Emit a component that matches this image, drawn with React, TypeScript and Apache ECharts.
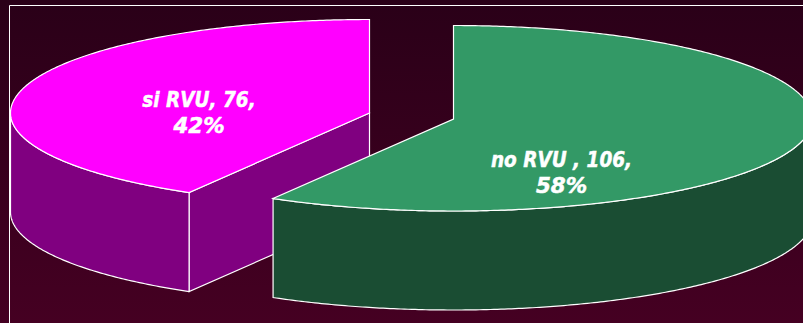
import React, { useEffect, useRef } from "react";
import * as echarts from "echarts";

// Slices in clockwise order, starting from twelve o'clock.
const sliceNames = ["no RVU ", "si RVU"];
const sliceValues = [106, 76];
const topColors = ["#339966", "#ff00ff"];
const wallColors = ["#1a4d33", "#800080"];

const WIDTH = 803;
const HEIGHT = 323;
const RADIUS_X = 359;
const RADIUS_Y_BACK = 93.5;
const RADIUS_Y_FRONT = 92;
const DEPTH = 99;
// Half a degree of rotation on the shared cut between the slices.
const CUT_NUDGE = (0.5 * Math.PI) / 180;
// Each slice is pulled away from the other, so it has its own apex.
const apexes = [
  [453.5, 119],
  [369.5, 113],
];
const labelCentres = [
  [561.5, 173],
  [199, 113],
];
const LABEL_LINE_GAP = 25;

const total = sliceValues.reduce((a, b) => a + b, 0);

const rimPoint = (cx: number, cy: number, angle: number) => {
  const c = Math.cos(angle);
  return [cx + RADIUS_X * Math.sin(angle), cy - (c > 0 ? RADIUS_Y_BACK : RADIUS_Y_FRONT) * c];
};

const arcPoints = (cx: number, cy: number, from: number, to: number) => {
  const steps = Math.max(2, Math.ceil(Math.abs(to - from) / 0.01));
  const pts: number[][] = [];
  for (let i = 0; i <= steps; i++) pts.push(rimPoint(cx, cy, from + ((to - from) * i) / steps));
  return pts;
};

const labelLine = (text: string, x: number, y: number, scaleX: number, z2: number) => ({
  type: "text",
  z2,
  x,
  y,
  scaleX,
  style: {
    text,
    fill: "#ffffff",
    stroke: "#ffffff",
    lineWidth: 0.5,
    font: "italic bold 21px 'DejaVu Sans'",
    align: "center",
    verticalAlign: "middle",
  },
});

// Draws one extruded slice: cut wall, outer wall, then the top face and its label.
const renderSlice = (params: any, api: any) => {
  const index = params.dataIndex;
  const value = api.value(0);
  const cut = (sliceValues[0] / total) * Math.PI * 2 + CUT_NUDGE;
  const start = index === 0 ? 0 : cut;
  const end = index === 0 ? cut : Math.PI * 2;
  const [cx, cy] = apexes[index];
  const edge = { stroke: "#ffffff", lineWidth: 1.2 };
  // The first slice sits in front of the second one.
  const z2 = (sliceValues.length - index) * 10;
  const children: any[] = [];

  // Walls can only be seen on the front half of the rim.
  const upper = arcPoints(cx, cy, Math.max(start, Math.PI / 2), Math.min(end, (Math.PI * 3) / 2));
  const lower = upper.map(([x, y]) => [x, y + DEPTH]).reverse();

  // Flat face left by the cut, visible when the slice begins on the front half.
  if (start > Math.PI / 2) {
    const rim = rimPoint(cx, cy, start);
    children.push({
      type: "polygon",
      z2,
      shape: {
        points: [
          [cx, cy],
          rim,
          [rim[0], rim[1] + DEPTH],
          [cx, cy + DEPTH],
        ],
      },
      style: { fill: wallColors[index], ...edge },
    });
  }

  children.push({
    type: "polygon",
    z2,
    shape: { points: [...upper, ...lower] },
    style: { fill: wallColors[index], ...edge },
  });

  children.push({
    type: "polygon",
    z2,
    shape: { points: [[cx, cy], ...arcPoints(cx, cy, start, end)] },
    style: { fill: topColors[index], ...edge },
  });

  const pct = Math.round((value / total) * 100);
  const [lx, ly] = labelCentres[index];
  children.push(
    labelLine(`${sliceNames[index]}, ${value},`, lx, ly - LABEL_LINE_GAP / 2, 0.88, z2 + 1),
    labelLine(`${pct}%`, lx, ly + LABEL_LINE_GAP / 2, 1.02, z2 + 1)
  );

  return { type: "group", children };
};

export default function App() {
  const ref = useRef<HTMLDivElement>(null);

  useEffect(() => {
    document.body.style.margin = "0";
    const chart = echarts.init(ref.current!, undefined, { renderer: "svg" });
    chart.setOption({
      animation: false,
      backgroundColor: {
        type: "linear",
        x: 0,
        y: 0,
        x2: 0,
        y2: 1,
        colorStops: [
          { offset: 0, color: "#2a0018" },
          { offset: 1, color: "#450022" },
        ],
      },
      graphic: [
        {
          type: "rect",
          z: -1,
          shape: { x: 9.5, y: 5.5, width: WIDTH + 20, height: HEIGHT + 20 },
          style: { fill: "none", stroke: "#ffffff", lineWidth: 1 },
        },
      ],
      series: [
        {
          type: "custom",
          coordinateSystem: "none",
          clip: false,
          silent: true,
          renderItem: renderSlice,
          data: sliceValues.map((value, i) => ({ name: sliceNames[i], value: [value] })),
        },
      ],
    });
    return () => chart.dispose();
  }, []);

  return <div ref={ref} style={{ width: WIDTH, height: HEIGHT }} />;
}
